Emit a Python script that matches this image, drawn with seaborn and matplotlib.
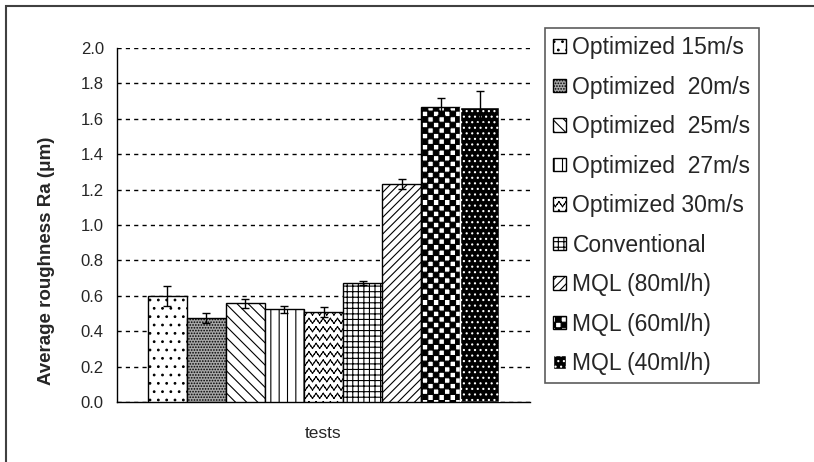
import warnings
import numpy as np
import pandas as pd
import matplotlib
matplotlib.use("Agg")
import matplotlib.pyplot as plt
import matplotlib.hatch as mhatch
from matplotlib.path import Path
from matplotlib.patches import Rectangle
import seaborn as sns

warnings.filterwarnings("ignore")

# data
conditions = ["Optimized 15m/s", "Optimized  20m/s", "Optimized  25m/s",
              "Optimized  27m/s", "Optimized 30m/s", "Conventional",
              "MQL (80ml/h)", "MQL (60ml/h)", "MQL (40ml/h)"]
ra_mean = [0.60, 0.475, 0.557, 0.525, 0.508, 0.672, 1.232, 1.669, 1.669]
ra_err = [0.055, 0.03, 0.025, 0.02, 0.028, 0.012, 0.03, 0.05, 0.09]
y_ticks = [0.0, 0.2, 0.4, 0.6, 0.8, 1.0, 1.2, 1.4, 1.6, 1.8, 2.0]


# two extra hatch patterns: 'c' = checkerboard, '~' = wavy lines
class CheckerHatch(mhatch.HatchPatternBase):
    def __init__(self, hatch, density):
        self.n = int(hatch.count('c') * density)
        if self.n % 2:
            self.n += 1
        self.num_vertices = (self.n * self.n // 2) * 5

    def set_vertices_and_codes(self, vertices, codes):
        s = 1.0 / self.n
        k = 0
        for i in range(self.n):
            for j in range(self.n):
                if (i + j) % 2:
                    continue
                x0, y0 = i * s, j * s
                vertices[k:k + 5] = [[x0, y0], [x0 + s, y0], [x0 + s, y0 + s],
                                     [x0, y0 + s], [x0, y0]]
                codes[k] = Path.MOVETO
                codes[k + 1:k + 4] = Path.LINETO
                codes[k + 4] = Path.CLOSEPOLY
                k += 5


class WaveHatch(mhatch.HatchPatternBase):
    def __init__(self, hatch, density):
        self.rows = int(hatch.count('~') * density)
        self.periods = self.rows + 2
        self.num_vertices = self.rows * self.periods * 4 * 2

    def set_vertices_and_codes(self, vertices, codes):
        step = 1.0 / self.rows
        amp = step * 0.3
        xs = np.linspace(0, 1, self.periods * 4 + 1)
        ys = amp * np.sin(np.arange(len(xs)) * np.pi / 2)
        k = 0
        for r in range(self.rows):
            yc = (r + 0.5) * step
            for a in range(len(xs) - 1):
                vertices[k] = [xs[a], yc + ys[a]]
                vertices[k + 1] = [xs[a + 1], yc + ys[a + 1]]
                codes[k] = Path.MOVETO
                codes[k + 1] = Path.LINETO
                k += 2


mhatch._hatch_types.extend([CheckerHatch, WaveHatch])

# look of each bar
hatches = ['..', '......', '\\\\\\', '||', '~~', '+++', '////', 'ccc', '...']
faces = ['white', '#a8a8a8', 'white', 'white', 'white', 'white', 'white', 'white', 'black']
edges = ['black'] * 8 + ['white']

sns.set_style("white")
plt.rcParams['font.family'] = ['Liberation Sans', 'DejaVu Sans']
plt.rcParams['hatch.linewidth'] = 0.8

df = pd.DataFrame({"group": ["tests"] * len(conditions), "ra": ra_mean, "cond": conditions})

fig = plt.figure(figsize=(8.14, 4.62), dpi=100)
ax = fig.add_axes([117 / 814, 1 - 402 / 462, 413 / 814, 354 / 462])

sns.barplot(data=df, x="group", y="ra", hue="cond", hue_order=conditions,
            width=0.852, errorbar=None, legend=False, ax=ax, zorder=3)

bars = [c[0] for c in ax.containers]
for b, h, fc, ec in zip(bars, hatches, faces, edges):
    b.set_facecolor(fc)
    b.set_edgecolor(ec)
    b.set_hatch(h)
    b.set_linewidth(1.0)

# error bars at bar centres
xs = [b.get_x() + b.get_width() / 2 for b in bars]
ax.errorbar(xs, ra_mean, yerr=ra_err, fmt='none', ecolor='black',
            elinewidth=1, capsize=3, capthick=1, zorder=4)

ax.set_ylim(0, 2.0)
ax.set_xlim(-0.5, 0.5)
ax.set_yticks(y_ticks)
ax.set_yticklabels([f"{t:.1f}" for t in y_ticks], fontsize=12)
ax.set_xticks([-0.5, 0.5])
ax.set_xticklabels(["", ""])
ax.tick_params(axis='y', direction='inout', length=9, width=1, pad=5, color='black')
ax.tick_params(axis='x', direction='out', length=5, width=1, color='black')
ax.yaxis.grid(True, linestyle=(0, (3, 3)), color='black', linewidth=1, zorder=0)
ax.set_axisbelow(True)
for s in ['top', 'right']:
    ax.spines[s].set_visible(False)
for s in ['left', 'bottom']:
    ax.spines[s].set_color('black')
    ax.spines[s].set_linewidth(1)

ax.set_ylabel("Average roughness Ra (μm)", fontsize=13.5, fontweight='bold')
ax.yaxis.set_label_coords(-0.150, 0.40)
ax.set_xlabel("tests", fontsize=12.5, labelpad=9)

leg = ax.legend(handles=bars, labels=conditions, loc='upper left',
                bbox_to_anchor=(545 / 814, 1 - 28 / 462), bbox_transform=fig.transFigure,
                fontsize=16.5, frameon=True, fancybox=False, borderaxespad=0,
                handlelength=0.55, handleheight=0.55, handletextpad=0.3,
                labelspacing=0.72, borderpad=0.35)
leg.get_frame().set_edgecolor('#333333')
leg.get_frame().set_linewidth(1.2)

# outer chart frame, cut off at right and bottom
fig.patches.append(Rectangle((6 / 814, -0.1), 1.2, 1 - 6 / 462 + 0.1,
                             transform=fig.transFigure, fill=False,
                             edgecolor='#404040', linewidth=1.5))

fig.savefig("out.png", dpi=100)
